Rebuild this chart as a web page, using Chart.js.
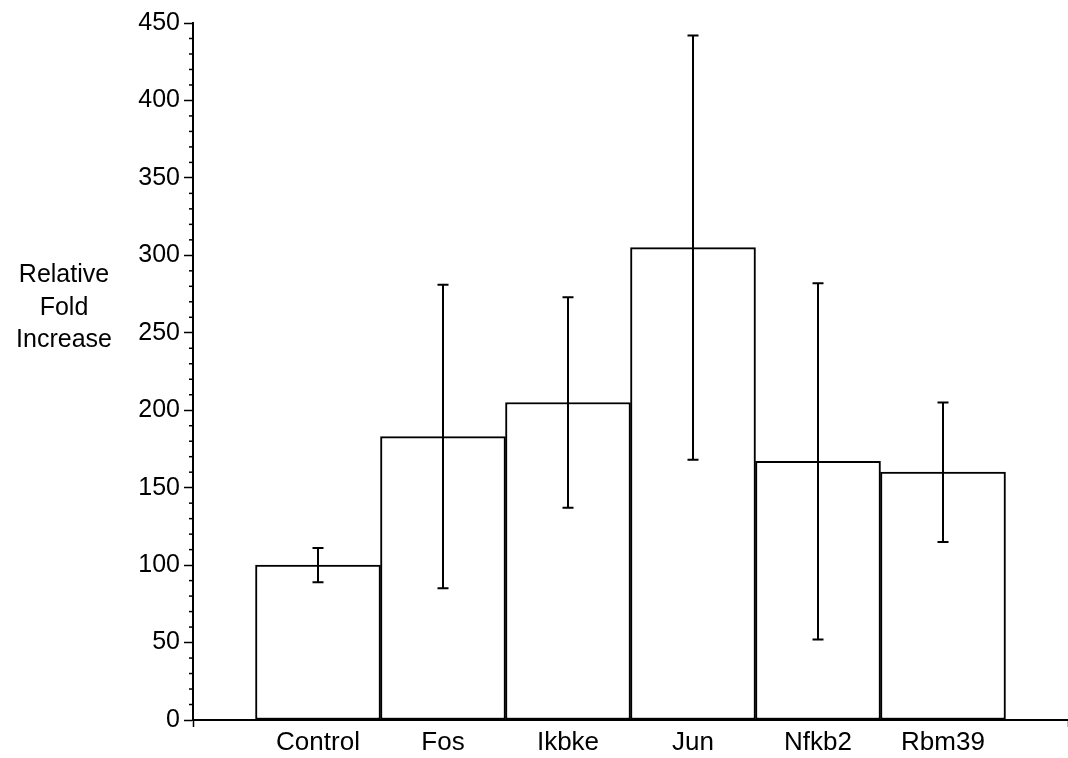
<!DOCTYPE html>
<html>
<head>
<meta charset="utf-8">
<script src="https://cdn.jsdelivr.net/npm/chart.js@4"></script>
<style>
  body { margin: 0; background: #fff; }
  #wrap { position: relative; width: 1068px; height: 758px; }
  #ytitle {
    position: absolute; left: 0; top: 257px; width: 128px;
    text-align: center; font: 25px "Liberation Sans", Arial, sans-serif;
    line-height: 32.5px; color: #000;
  }
</style>
</head>
<body>
<div id="wrap">
  <canvas id="chart"></canvas>
  <div id="ytitle">Relative<br>Fold<br>Increase</div>
</div>
<script>
const categories = ['Control', 'Fos', 'Ikbke', 'Jun', 'Nfkb2', 'Rbm39'];
const means = [100, 183, 205, 305, 167, 160];
const errors = [11, 98, 68, 137, 115, 45];
const yMin = 0, yMax = 450, yMajor = 50, yMinor = 10;

Chart.defaults.font.family = '"Liberation Sans", Arial, sans-serif';
Chart.defaults.font.size = 24;
Chart.defaults.color = '#000';

// short minor ticks on the y axis
const minorTicks = {
  id: 'minorTicks',
  afterDraw(chart) {
    const y = chart.scales.y;
    const ctx = chart.ctx;
    ctx.save();
    ctx.strokeStyle = '#000';
    ctx.lineWidth = 1.5;
    y.ticks.forEach(t => {
      if (t.value % yMajor === 0) return;
      const py = y.getPixelForValue(t.value);
      ctx.beginPath();
      ctx.moveTo(y.right - 4, py);
      ctx.lineTo(y.right, py);
      ctx.stroke();
    });
    ctx.restore();
  }
};

const errorBars = {
  id: 'errorBars',
  afterDatasetsDraw(chart) {
    const y = chart.scales.y;
    const meta = chart.getDatasetMeta(0);
    const ctx = chart.ctx;
    ctx.save();
    ctx.strokeStyle = '#000';
    ctx.lineWidth = 2;
    meta.data.forEach((bar, i) => {
      const top = y.getPixelForValue(means[i] + errors[i]);
      const bot = y.getPixelForValue(means[i] - errors[i]);
      const x = bar.x;
      ctx.beginPath();
      ctx.moveTo(x, top); ctx.lineTo(x, bot);
      ctx.moveTo(x - 5.5, top); ctx.lineTo(x + 5.5, top);
      ctx.moveTo(x - 5.5, bot); ctx.lineTo(x + 5.5, bot);
      ctx.stroke();
    });
    ctx.restore();
  }
};

new Chart(document.getElementById('chart'), {
  type: 'bar',
  data: {
    datasets: [{
      data: categories.map((c, i) => ({ x: i + 1, y: means[i] })),
      backgroundColor: '#fff',
      borderColor: '#000',
      borderWidth: 2,
      borderSkipped: false,
      categoryPercentage: 1,
      barPercentage: 1
    }]
  },
  options: {
    responsive: true,
    maintainAspectRatio: false,
    animation: false,
    layout: { padding: { top: 23, right: 0, left: 0, bottom: 0 } },
    plugins: { legend: { display: false }, tooltip: { enabled: false } },
    scales: {
      x: {
        type: 'linear',
        offset: false,
        min: 0,
        max: categories.length + 1,
        afterFit: s => { s.height = 38; },
        border: { color: '#000', width: 2 },
        grid: {
          offset: false,
          drawOnChartArea: false,
          tickLength: 7,
          tickWidth: 1.5,
          tickColor: c => (c.tick && (c.tick.value === 0 || c.tick.value === categories.length + 1)) ? '#000' : 'rgba(0,0,0,0)'
        },
        ticks: {
          stepSize: 1,
          autoSkip: false,
          maxRotation: 0,
          padding: 0,
          font: { size: 26 },
          callback: v => categories[v - 1] || ''
        }
      },
      y: {
        min: yMin,
        max: yMax,
        afterFit: s => { s.width = 193; },
        border: { color: '#000', width: 2 },
        grid: {
          drawOnChartArea: false,
          tickLength: 9,
          tickWidth: 1.5,
          tickColor: c => (c.tick && c.tick.value % yMajor === 0) ? '#000' : 'rgba(0,0,0,0)'
        },
        ticks: {
          stepSize: yMinor,
          autoSkip: false,
          padding: 4,
          font: { size: 25 },
          callback: v => (v % yMajor === 0 ? v : '')
        }
      }
    }
  },
  plugins: [minorTicks, errorBars]
});
</script>
</body>
</html>
